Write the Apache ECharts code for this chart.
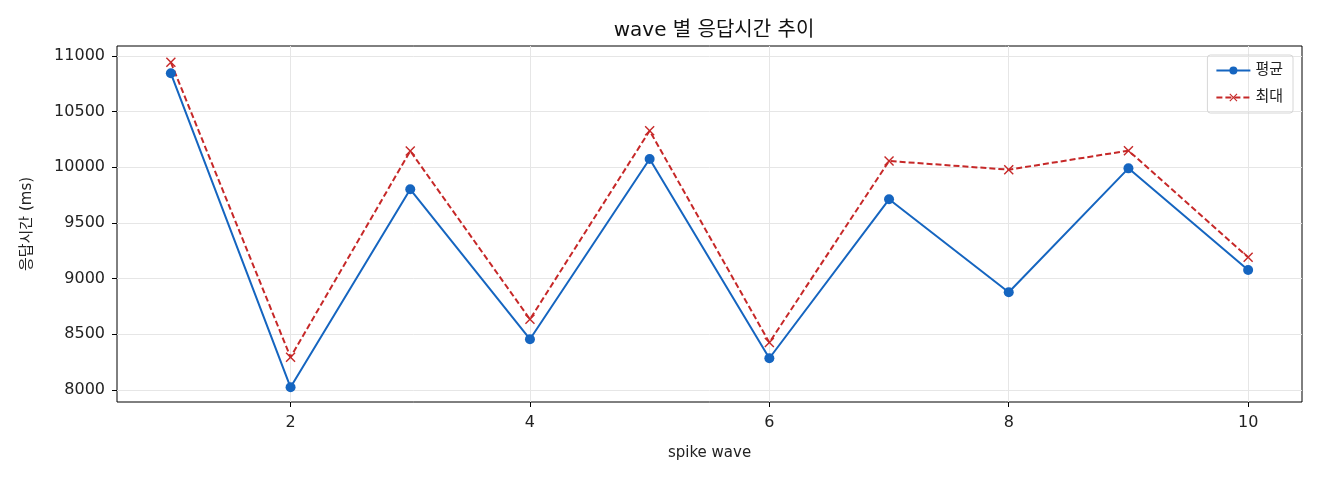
<!DOCTYPE html>
<html>
<head>
<meta charset="utf-8">
<script src="https://cdn.jsdelivr.net/npm/echarts@6/dist/echarts.min.js"></script>
<style>
html, body { margin: 0; padding: 0; background: #fff; }
#chart { width: 1320px; height: 480px; }
</style>
</head>
<body>
<div id="chart"></div>
<script>
var waves = [1, 2, 3, 4, 5, 6, 7, 8, 9, 10];
var avgValues = [10845, 8024, 9803, 8456, 10075, 8285, 9713, 8878, 9991, 9078];
var maxValues = [10943, 8294, 10147, 8635, 10329, 8426, 10057, 9979, 10150, 9192];
var xTicks = [2, 4, 6, 8, 10];
var yTicks = [8000, 8500, 9000, 9500, 10000, 10500, 11000];

var FONT = '"DejaVu Sans", "Noto Sans CJK KR", sans-serif';
var BLUE = '#1565c0';
var RED = '#c62828';
var crossPath = 'path://M0,1L1,0L5,4L9,0L10,1L6,5L10,9L9,10L5,6L1,10L0,9L4,5Z';

var chart = echarts.init(document.getElementById('chart'));

function pairs(vals) {
	return waves.map(function (w, i) { return [w, vals[i]]; });
}

var option = {
	backgroundColor: '#fff',
	animation: false,
	title: {
		text: 'wave 별 응답시간 추이',
		left: 709,
		textAlign: 'center',
		top: 16,
		textStyle: { fontFamily: FONT, fontSize: 20, fontWeight: 'normal', color: '#111' }
	},
	legend: {
		orient: 'vertical',
		right: 27,
		top: 55,
		itemWidth: 34,
		itemHeight: 10,
		itemGap: 12,
		padding: [8, 10, 8, 8],
		borderColor: '#d6d6d6',
		borderWidth: 1,
		borderRadius: 3,
		textStyle: { fontFamily: FONT, fontSize: 15, color: '#222' },
		data: ['평균', '최대']
	},
	grid: {
		left: 117,
		right: 18,
		top: 46,
		bottom: 78,
		show: true,
		borderColor: '#000',
		borderWidth: 1
	},
	xAxis: {
		type: 'value',
		min: 0.55,
		max: 10.45,
		name: 'spike wave',
		nameLocation: 'middle',
		nameGap: 44,
		nameTextStyle: { fontFamily: FONT, fontSize: 15, color: '#222' },
		axisLine: { show: false },
		axisTick: { show: true, length: 5, lineStyle: { color: '#000' }, customValues: xTicks },
		axisLabel: { fontFamily: FONT, fontSize: 16, color: '#222', margin: 13, customValues: xTicks },
		splitLine: { show: true, lineStyle: { color: '#e6e6e6', width: 1 } }
	},
	yAxis: {
		type: 'value',
		min: 7892,
		max: 11090,
		name: '응답시간 (ms)',
		nameLocation: 'middle',
		nameGap: 82,
		nameTextStyle: { fontFamily: FONT, fontSize: 15, color: '#222' },
		axisLine: { show: false },
		axisTick: { show: true, length: 5, lineStyle: { color: '#000' }, customValues: yTicks },
		axisLabel: {
			fontFamily: FONT, fontSize: 16, color: '#222', margin: 12, customValues: yTicks,
			formatter: function (v) { return String(v); }
		},
		splitLine: { show: true, lineStyle: { color: '#e6e6e6', width: 1 } }
	},
	series: [
		{
			name: '평균',
			type: 'line',
			data: pairs(avgValues),
			symbol: 'circle',
			symbolSize: 10,
			lineStyle: { color: BLUE, width: 2 },
			itemStyle: { color: BLUE },
			z: 3
		},
		{
			name: '최대',
			type: 'line',
			data: pairs(maxValues),
			symbol: crossPath,
			symbolSize: 10,
			lineStyle: { color: RED, width: 2, type: [6, 3] },
			itemStyle: { color: RED },
			z: 2
		}
	]
};
chart.setOption(option);
</script>
</body>
</html>
